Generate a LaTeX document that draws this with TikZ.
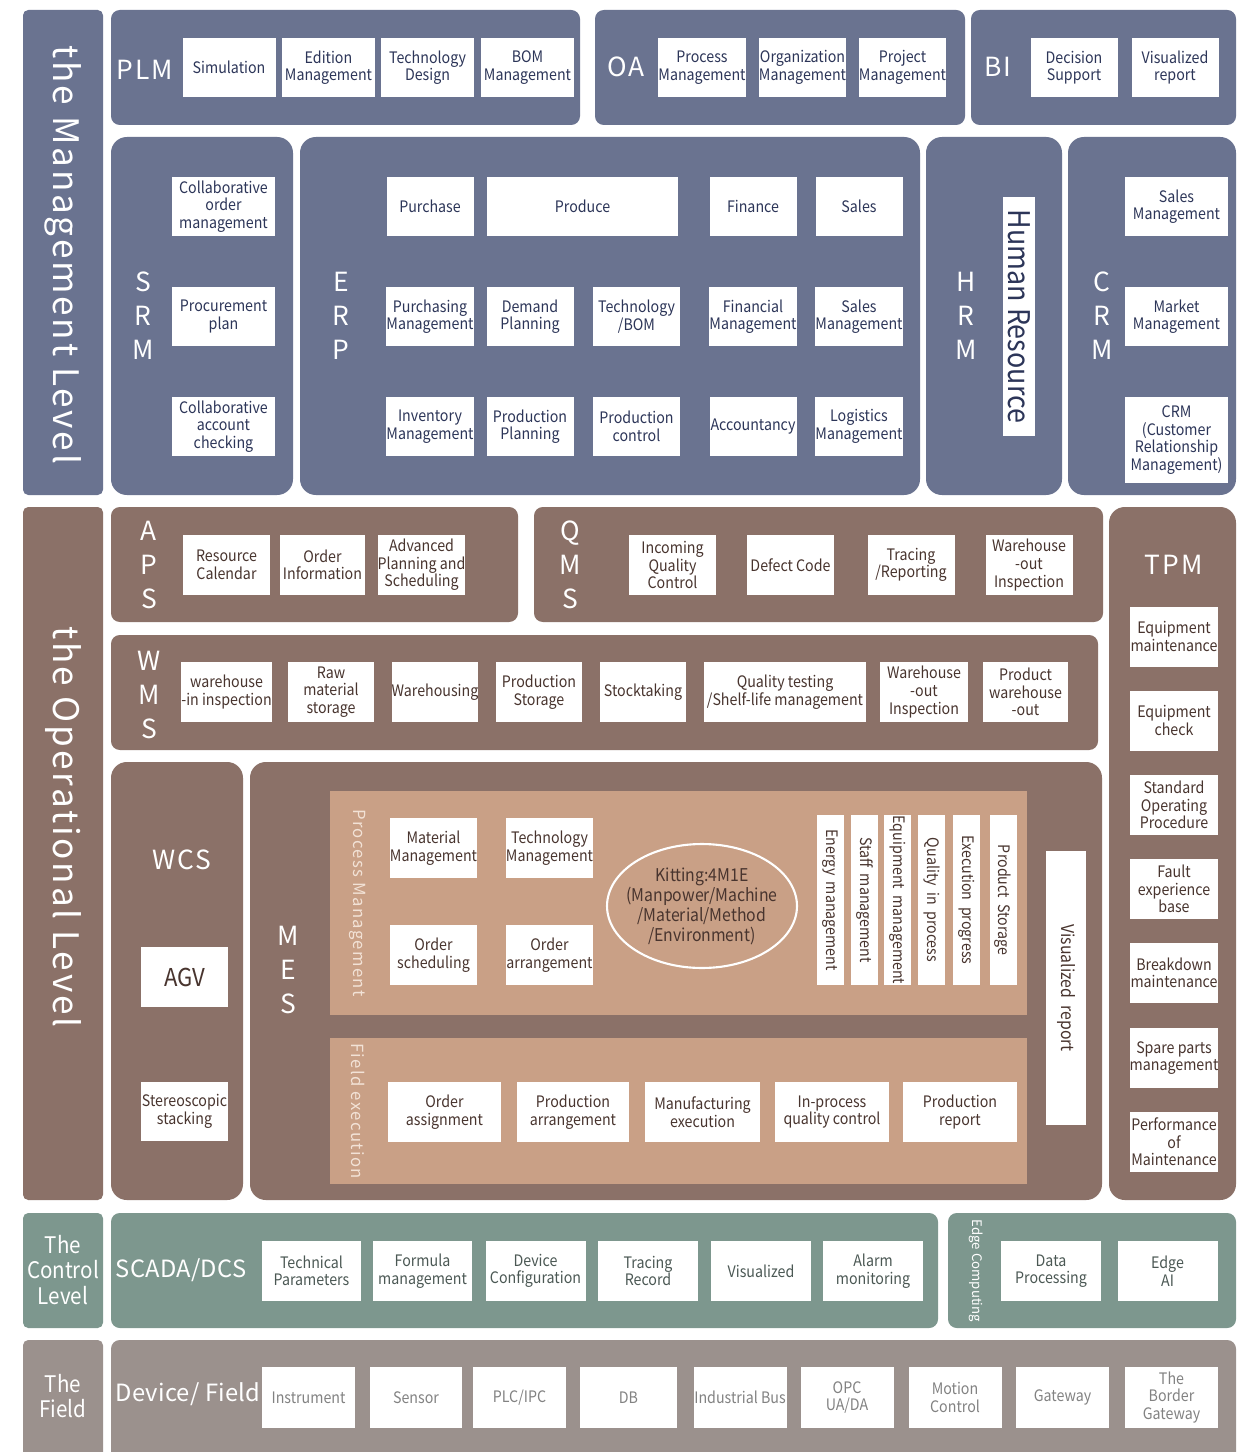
\documentclass[tikz,border=0pt]{standalone}
\usepackage{fontspec}
\setmainfont{Noto Sans CJK SC}[FakeStretch=0.9]
\newfontfamily\widefont[LetterSpace=8]{Noto Sans CJK SC}
\newfontfamily\labelfont[LetterSpace=1]{Noto Sans CJK SC}
\newfontfamily\thinfont{Noto Sans CJK SC}
\usetikzlibrary{shapes.geometric}

\definecolor{mgmt}{RGB}{106,115,144}
\definecolor{oper}{RGB}{139,113,104}
\definecolor{tan}{RGB}{201,160,134}
\definecolor{ctrl}{RGB}{125,151,142}
\definecolor{fld}{RGB}{155,145,141}
\definecolor{mtext}{RGB}{44,53,88}
\definecolor{otext}{RGB}{72,52,46}
\definecolor{ctext}{RGB}{75,88,84}
\definecolor{ftext}{RGB}{130,130,130}
\definecolor{pale}{RGB}{242,226,214}

\tikzset{
  box/.style={fill=white, text=mtext, minimum width=1.74cm, minimum height=1.2cm,
    inner sep=0pt, align=center, font=\fontsize{9}{10}\selectfont},
  obox/.style={box, text=otext},
  cbox/.style={box, text=ctext, minimum width=2cm},
  fbox/.style={box, text=ftext, minimum width=1.86cm, minimum height=1.22cm},
  wd/.style={minimum width=#1*0.02cm},
  ht/.style={minimum height=#1*0.02cm},
  panelname/.style={text=white, align=center, inner sep=0pt,
    font=\widefont\fontsize{15}{19.4}\selectfont},
  wordname/.style={text=white, inner sep=0pt, font=\labelfont\fontsize{13.5}{16}\selectfont},
  lvlname/.style={text=white, rotate=-90, inner sep=0pt,
    font=\widefont\fontsize{20}{24}\selectfont},
  tier/.style={text=white, align=center, inner sep=0pt, font=\fontsize{13}{14.5}\selectfont},
  sidelabel/.style={text=pale, rotate=-90, inner sep=0pt,
    font=\widefont\fontsize{9.5}{11}\selectfont},
  stripbox/.style={obox, rotate=-90, minimum height=0.54cm, minimum width=3.4cm},
}

\begin{document}
\begin{tikzpicture}[x=0.02cm, y=-0.02cm]

    \useasboundingbox (0,0) rectangle (1249,1452);
    \clip (0,0) rectangle (1249,1452);

    % Panels
    \fill[mgmt, rounded corners=3pt] (23,10) rectangle (103,495);
    \fill[mgmt, rounded corners=5pt] (111,10) rectangle (580,125);
    \fill[mgmt, rounded corners=5pt] (595,10) rectangle (965,125);
    \fill[mgmt, rounded corners=5pt] (971,10) rectangle (1236,125);
    \fill[mgmt, rounded corners=9pt] (111,137) rectangle (293,495);
    \fill[mgmt, rounded corners=9pt] (300,137) rectangle (920,495);
    \fill[mgmt, rounded corners=9pt] (926,137) rectangle (1062,495);
    \fill[mgmt, rounded corners=9pt] (1068,137) rectangle (1236,495);

    \fill[oper, rounded corners=3pt] (23,507) rectangle (103,1200);
    \fill[oper, rounded corners=5pt] (111,507) rectangle (518,622);
    \fill[oper, rounded corners=5pt] (534,507) rectangle (1103,622);
    \fill[oper, rounded corners=9pt] (1109,507) rectangle (1236,1200);
    \fill[oper, rounded corners=5pt] (111,635) rectangle (1098,750);
    \fill[oper, rounded corners=9pt] (111,762) rectangle (243,1200);
    \fill[oper, rounded corners=9pt] (250,762) rectangle (1102,1200);
    \fill[tan] (330,791) rectangle (1027,1015);
    \fill[tan] (330,1038) rectangle (1027,1184);

    \fill[ctrl, rounded corners=3pt] (23,1213) rectangle (103,1328);
    \fill[ctrl, rounded corners=5pt] (111,1213) rectangle (938,1328);
    \fill[ctrl, rounded corners=5pt] (948,1213) rectangle (1236,1328);

    \fill[fld, rounded corners=3pt] (23,1340) rectangle (103,1470);
    \fill[fld, rounded corners=5pt] (111,1340) rectangle (1236,1470);

    % Management level
    \node[lvlname] (mlevel) at (63,255) {the Management Level};

    \node[panelname] (plm) at (145,70) {PLM};
    \node[box, wd=93, ht=59] (sim)    at (229,67.5)   {Simulation};
    \node[box, wd=93, ht=59] (edmgmt) at (328.5,67.5) {Edition\\Management};
    \node[box, wd=93, ht=59] (techd)  at (427.5,67.5) {Technology\\Design};
    \node[box, wd=93, ht=59] (bom)    at (527.5,67.5) {BOM\\Management};

    \node[panelname] (oa) at (626,67) {OA};
    \node[box, ht=59] (procm) at (702,67.5)   {Process\\Management};
    \node[box, ht=59] (orgm)  at (802.5,67.5) {Organization\\Management};
    \node[box, ht=59] (projm) at (902.5,67.5) {Project\\Management};

    \node[panelname] (bi) at (998,67) {BI};
    \node[box, ht=59] (decis) at (1074,67.5) {Decision\\Support};
    \node[box, ht=59] (visbi) at (1175,67.5) {Visualized\\report};

    \node[panelname] (srm) at (143,316) {S\\R\\M};
    \node[box, wd=103, ht=59] (corder)  at (223.5,206.5) {Collaborative\\order\\management};
    \node[box, wd=103, ht=59] (procpl)  at (223.5,316.5) {Procurement\\plan};
    \node[box, wd=103, ht=59] (caccnt)  at (223.5,426.5) {Collaborative\\account\\checking};

    \node[panelname] (erp) at (341,316) {E\\R\\P};
    \node[box, ht=59]         (purch)   at (430,206.5)   {Purchase};
    \node[box, wd=191, ht=59] (produce) at (582.5,206.5) {Produce};
    \node[box, ht=59]         (fin)     at (753,206.5)   {Finance};
    \node[box, ht=59]         (sales)   at (859,206.5)   {Sales};
    \node[box, ht=59] (purchm)  at (430,316.5)   {Purchasing\\Management};
    \node[box, ht=59] (demand)  at (530,316.5)   {Demand\\Planning};
    \node[box, ht=59] (techbom) at (636.5,316.5) {Technology\\/BOM};
    \node[box, ht=59] (finm)    at (753,316.5)   {Financial\\Management};
    \node[box, ht=59] (salesm)  at (859,316.5)   {Sales\\Management};
    \node[box, ht=59] (invm)    at (430,426.5)   {Inventory\\Management};
    \node[box, ht=59] (prodpl)  at (530,426.5)   {Production\\Planning};
    \node[box, ht=59] (prodct)  at (636.5,426.5) {Production\\control};
    \node[box, ht=59] (acct)    at (753,426.5)   {Accountancy};
    \node[box, ht=59] (logm)    at (859,426.5)   {Logistics\\Management};

    \node[panelname] (hrm) at (966,316) {H\\R\\M};
    \node[box, rotate=-90, wd=239, ht=32, font=\fontsize{17}{18}\selectfont] (hr) at (1019,316.5) {Human Resource};

    \node[panelname] (crm) at (1102,316) {C\\R\\M};
    \node[box, wd=103, ht=59] (crmsales)  at (1176.5,206.5) {Sales\\Management};
    \node[box, wd=103, ht=59] (crmmarket) at (1176.5,316.5) {Market\\Management};
    \node[box, wd=103, ht=86] (crmfull)   at (1176.5,440)   {CRM\\(Customer\\Relationship\\Management)};

    % Operational level
    \node[lvlname] (olevel) at (63,827) {the Operational Level};

    \node[panelname] (aps) at (149,565) {A\\P\\S};
    \node[obox, ht=60]         (rescal)  at (226.5,565) {Resource\\Calendar};
    \node[obox, wd=85, ht=60]  (ordinfo) at (322.5,565) {Order\\Information};
    \node[obox, ht=60]         (advps)   at (421.5,565) {Advanced\\Planning and\\Scheduling};

    \node[panelname] (qms) at (570,565) {Q\\M\\S};
    \node[obox, ht=60] (incqc)   at (672.5,565) {Incoming\\Quality\\Control};
    \node[obox, ht=60] (defect)  at (790.5,565) {Defect Code};
    \node[obox, ht=60] (tracrep) at (911,565)   {Tracing\\/Reporting};
    \node[obox, ht=60] (qmsout)  at (1029,565)  {Warehouse\\-out\\Inspection};

    \node[panelname] (tpm) at (1174,565) {TPM};
    \node[obox, wd=88, ht=60] (eqmaint) at (1174,636.5) {Equipment\\maintenance};
    \node[obox, wd=88, ht=60] (eqcheck) at (1174,720.5) {Equipment\\check};
    \node[obox, wd=88, ht=60] (sop)     at (1174,805)   {Standard\\Operating\\Procedure};
    \node[obox, wd=88, ht=60] (fault)   at (1174,889)   {Fault\\experience\\base};
    \node[obox, wd=88, ht=60] (brkdown) at (1174,973)   {Breakdown\\maintenance};
    \node[obox, wd=88, ht=60] (spare)   at (1174,1058)  {Spare parts\\management};
    \node[obox, wd=88, ht=60] (perf)    at (1174,1142)  {Performance\\of\\Maintenance};

    \node[panelname] (wms) at (149,695) {W\\M\\S};
    \node[obox, ht=60]          (whin)    at (226.5,692) {warehouse\\-in inspection};
    \node[obox, wd=86, ht=60]   (rawmat)  at (331,692)   {Raw\\material\\storage};
    \node[obox, wd=86, ht=60]   (whsing)  at (435,692)   {Warehousing};
    \node[obox, wd=86, ht=60]   (prodsto) at (539,692)   {Production\\Storage};
    \node[obox, wd=86, ht=60]   (stock)   at (643,692)   {Stocktaking};
    \node[obox, wd=162, ht=60]  (qtest)   at (785,692)   {Quality testing\\/Shelf-life management};
    \node[obox, wd=88, ht=60]   (whout)   at (924,692)   {Warehouse\\-out\\Inspection};
    \node[obox, wd=85, ht=60]   (prodout) at (1025.5,692) {Product\\warehouse\\-out};

    \node[panelname] (wcs) at (182,860) {WCS};
    \node[obox, ht=60, font=\fontsize{14}{15}\selectfont] (agv) at (184.5,977) {AGV};
    \node[obox, ht=59] (stereo) at (184.5,1111.5) {Stereoscopic\\stacking};

    \node[panelname] (mes) at (288,970) {M\\E\\S};
    \node[sidelabel] (procmlbl) at (358,903) {Process Management};
    \node[obox, ht=60] (matm)     at (433.5,848) {Material\\Management};
    \node[obox, ht=60] (techm)    at (549.5,848) {Technology\\Management};
    \node[obox, ht=60] (ordsched) at (433.5,955) {Order\\scheduling};
    \node[obox, ht=60] (ordarr)   at (549.5,955) {Order\\arrangement};
    \node[ellipse, draw=white, line width=1.2pt, fill=tan, text=otext, align=center,
          minimum width=3.8cm, minimum height=2.48cm, inner xsep=-5pt, inner ysep=2pt,
          font=\fontsize{10}{11.4}\selectfont] (kitting) at (702,906)
          {Kitting:4M1E\\(Manpower/Machine\\/Material/Method\\/Environment)};
    \node[stripbox] (energy) at (830.5,900) {Energy\ \ management};
    \node[stripbox] (staff)  at (864.5,900) {Staff\ \ management};
    \node[stripbox] (equipm) at (897.5,900) {Equipment\ \ management};
    \node[stripbox] (qproc)  at (931.5,900) {Quality\ \ in\ \ process};
    \node[stripbox] (exprog) at (966.5,900) {Execution\ \ progress};
    \node[stripbox] (prodst) at (1003,900)  {Product\ \ Storage};

    \node[sidelabel] (fieldlbl) at (358,1111) {Field execution};
    \node[obox, wd=113, ht=60] (ordasg)  at (444.5,1112) {Order\\assignment};
    \node[obox, wd=112, ht=60] (prodarr) at (573,1112)   {Production\\arrangement};
    \node[obox, wd=115, ht=60] (mfgexec) at (702.5,1112) {Manufacturing\\execution};
    \node[obox, wd=114, ht=60] (ipqc)    at (832,1112)   {In-process\\quality control};
    \node[obox, wd=114, ht=60] (prodrep) at (960,1112)   {Production\\report};

    \node[obox, rotate=-90, wd=274, ht=40, font=\fontsize{10}{11}\selectfont] (visrep) at (1066,988) {Visualized\ \ report};

    % Control level
    \node[tier] (clevel) at (63,1270) {The\\Control\\Level};
    \node[wordname] (scada) at (181,1270) {SCADA/DCS};
    \node[cbox, ht=60] (techpar) at (311.5,1271) {Technical\\Parameters};
    \node[cbox, ht=60] (formula) at (422.5,1271) {Formula\\management};
    \node[cbox, ht=60] (devconf) at (535.5,1271) {Device\\Configuration};
    \node[cbox, ht=60] (tracrec) at (648,1271)   {Tracing\\Record};
    \node[cbox, ht=60] (visctl)  at (761,1271)   {Visualized};
    \node[cbox, ht=60] (alarm)   at (873,1271)   {Alarm\\monitoring};

    \node[sidelabel, text=white, font=\thinfont\fontsize{7.5}{9}\selectfont] (edge) at (976,1271) {Edge Computing};
    \node[cbox, ht=60] (dataproc) at (1051,1271)   {Data\\Processing};
    \node[cbox, ht=60] (edgeai)   at (1167.5,1271) {Edge\\AI};

    % Field level
    \node[tier] (flevel) at (63,1396) {The\\Field};
    \node[wordname] (devfld) at (188,1394) {Device/ Field};
    \node[fbox] (instr)   at (308.5,1397.5) {Instrument};
    \node[fbox] (sensor)  at (416,1397.5)   {Sensor};
    \node[fbox] (plc)     at (519.5,1397.5) {PLC/IPC};
    \node[fbox, wd=97] (db) at (628.5,1397.5) {DB};
    \node[fbox] (indbus)  at (740,1397.5)   {Industrial Bus};
    \node[fbox] (opc)     at (847,1397.5)   {OPC\\UA/DA};
    \node[fbox] (motion)  at (955,1397.5)   {Motion\\Control};
    \node[fbox] (gateway) at (1062.5,1397.5) {Gateway};
    \node[fbox] (border)  at (1171.5,1397.5) {The\\Border\\Gateway};

\end{tikzpicture}
\end{document}
